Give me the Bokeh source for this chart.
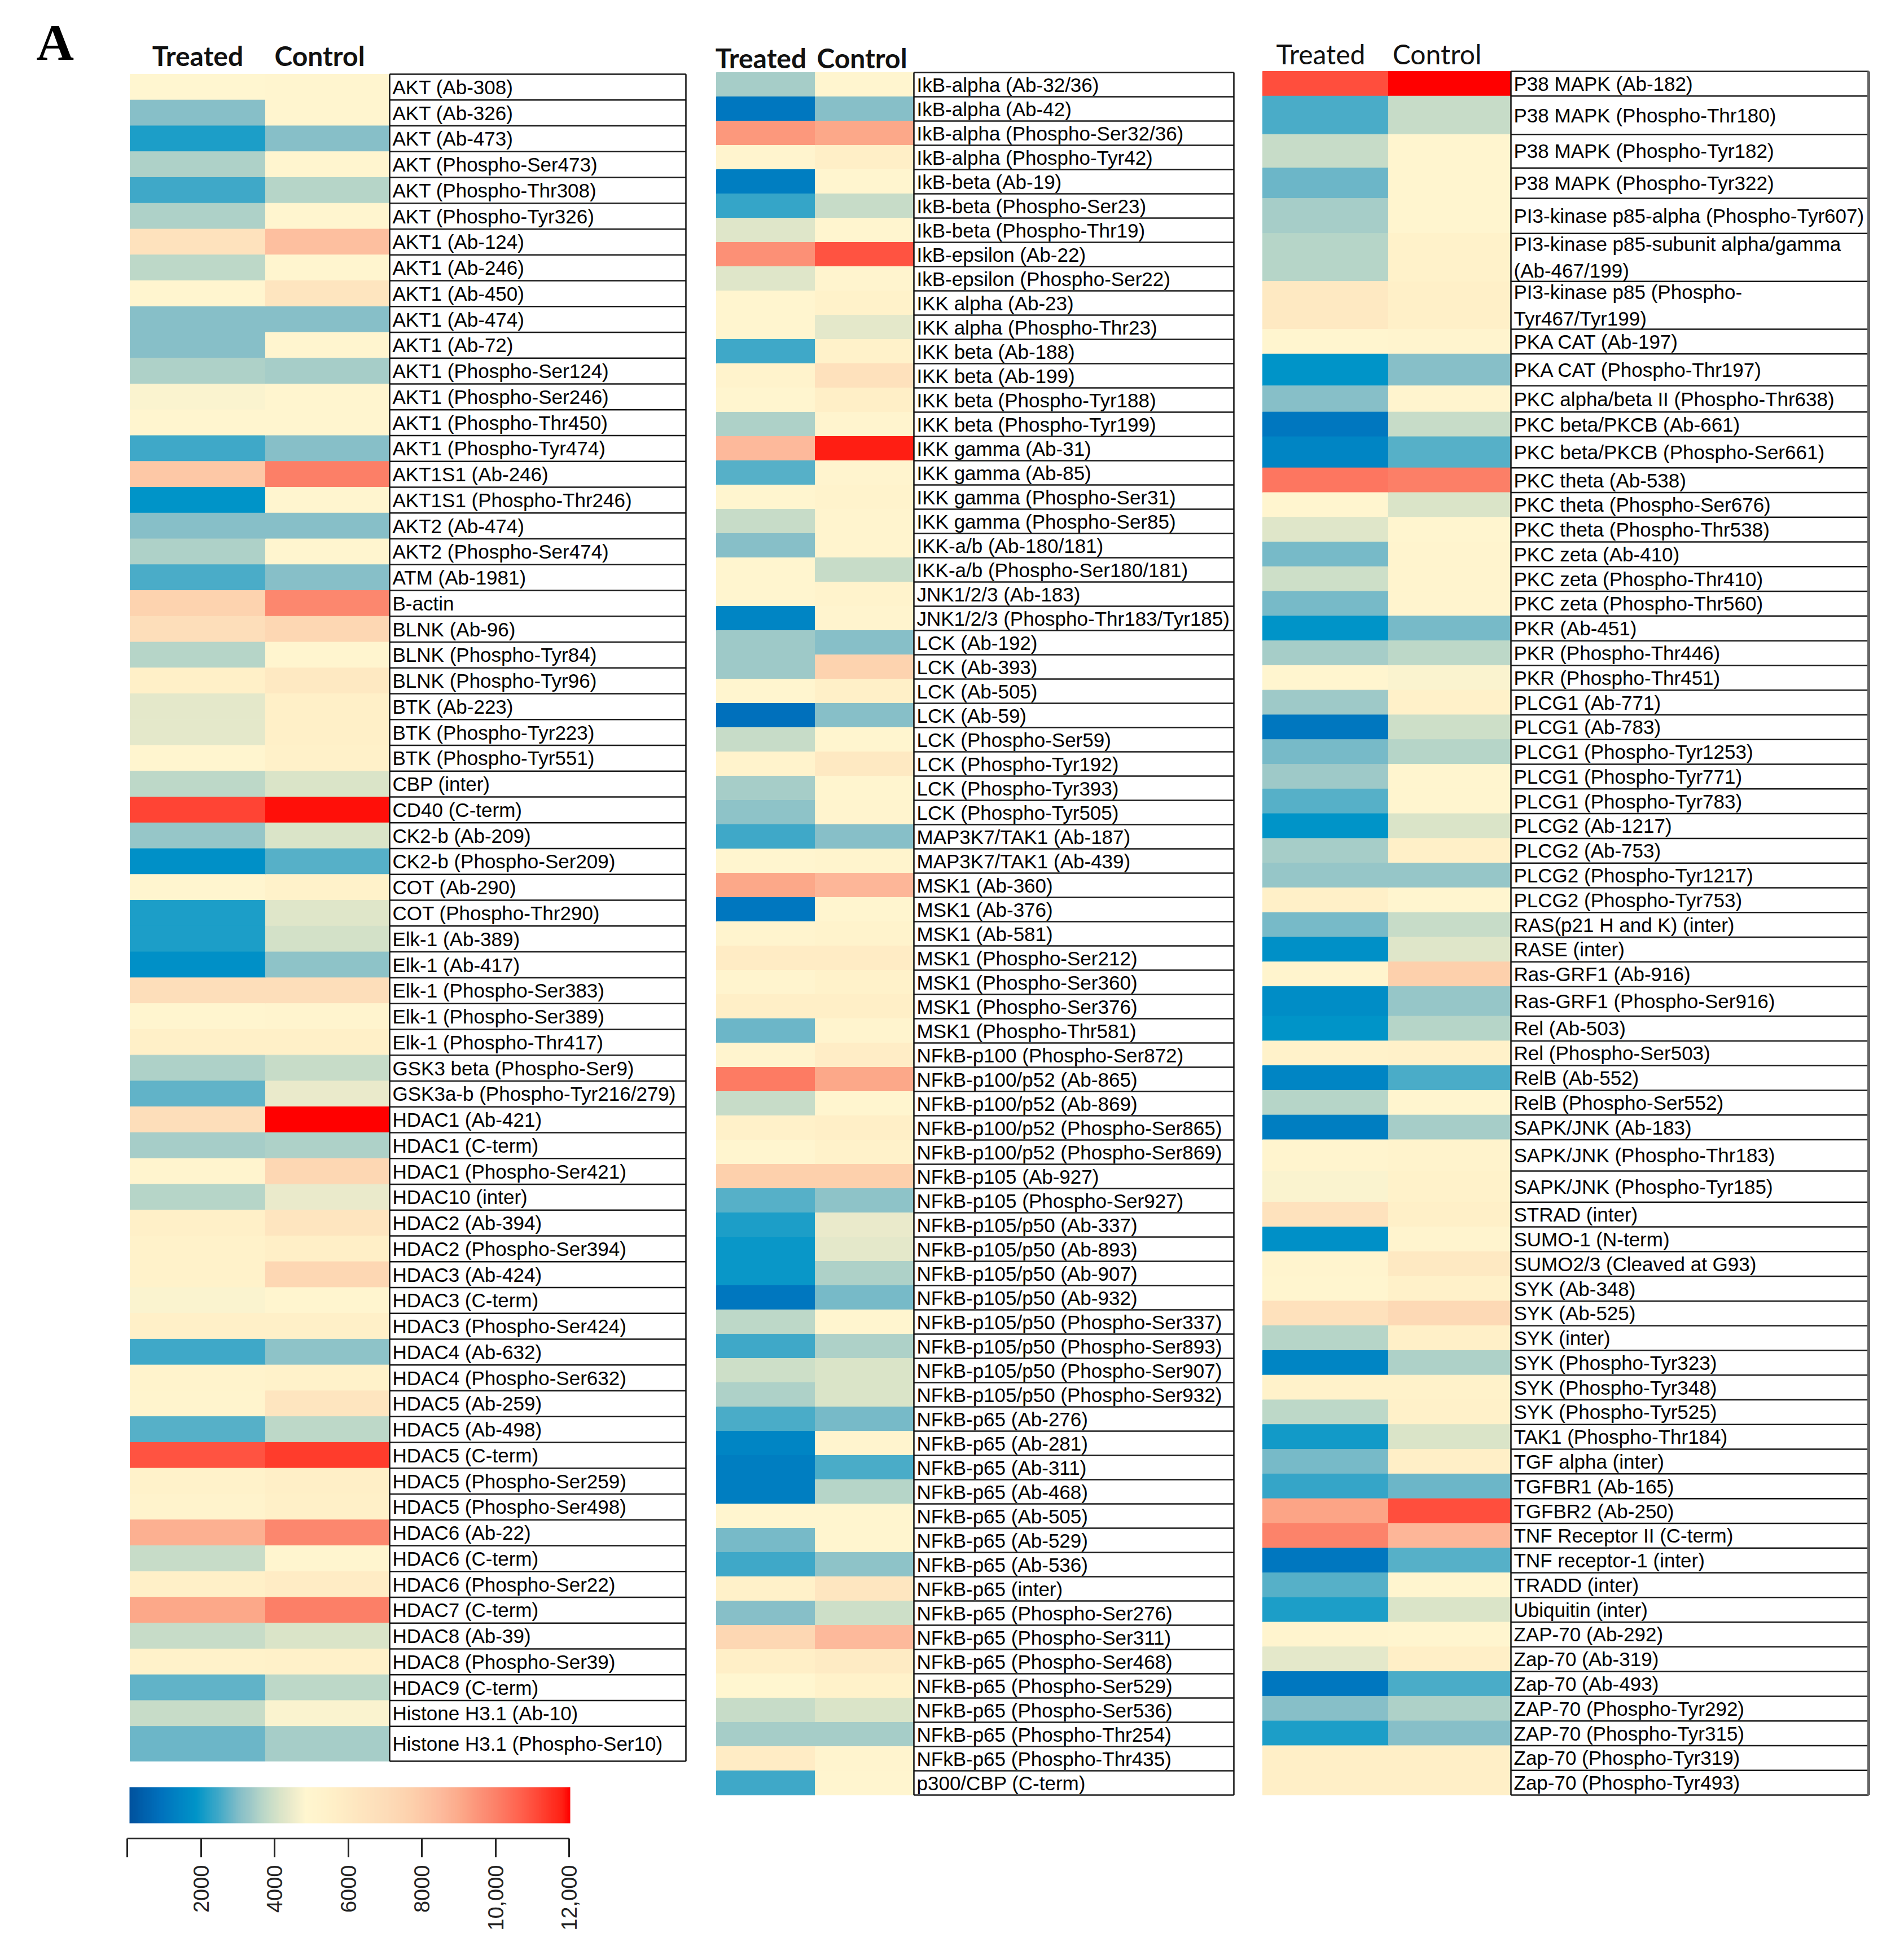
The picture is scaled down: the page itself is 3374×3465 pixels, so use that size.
import numpy as np
from bokeh.plotting import figure
from bokeh.models import ColumnDataSource, LinearColorMapper, Range1d, LinearAxis, FixedTicker, ColorBar
from bokeh.transform import transform
from bokeh.core.properties import value
from bokeh.embed import file_html
from bokeh.resources import INLINE

# ---------------- data ----------------
conditions = ["Treated", "Control"]

p1_labels = ["AKT (Ab-308)", "AKT (Ab-326)", "AKT (Ab-473)", "AKT (Phospho-Ser473)", "AKT (Phospho-Thr308)",
             "AKT (Phospho-Tyr326)", "AKT1 (Ab-124)", "AKT1 (Ab-246)", "AKT1 (Ab-450)", "AKT1 (Ab-474)",
             "AKT1 (Ab-72)", "AKT1 (Phospho-Ser124)", "AKT1 (Phospho-Ser246)", "AKT1 (Phospho-Thr450)",
             "AKT1 (Phospho-Tyr474)", "AKT1S1 (Ab-246)", "AKT1S1 (Phospho-Thr246)", "AKT2 (Ab-474)",
             "AKT2 (Phospho-Ser474)", "ATM (Ab-1981)", "B-actin", "BLNK (Ab-96)", "BLNK (Phospho-Tyr84)",
             "BLNK (Phospho-Tyr96)", "BTK (Ab-223)", "BTK (Phospho-Tyr223)", "BTK (Phospho-Tyr551)",
             "CBP (inter)", "CD40 (C-term)", "CK2-b (Ab-209)", "CK2-b (Phospho-Ser209)", "COT (Ab-290)",
             "COT (Phospho-Thr290)", "Elk-1 (Ab-389)", "Elk-1 (Ab-417)", "Elk-1 (Phospho-Ser383)",
             "Elk-1 (Phospho-Ser389)", "Elk-1 (Phospho-Thr417)", "GSK3 beta (Phospho-Ser9)",
             "GSK3a-b (Phospho-Tyr216/279)", "HDAC1 (Ab-421)", "HDAC1 (C-term)", "HDAC1 (Phospho-Ser421)",
             "HDAC10 (inter)", "HDAC2 (Ab-394)", "HDAC2 (Phospho-Ser394)", "HDAC3 (Ab-424)", "HDAC3 (C-term)",
             "HDAC3 (Phospho-Ser424)", "HDAC4 (Ab-632)", "HDAC4 (Phospho-Ser632)", "HDAC5 (Ab-259)",
             "HDAC5 (Ab-498)", "HDAC5 (C-term)", "HDAC5 (Phospho-Ser259)", "HDAC5 (Phospho-Ser498)",
             "HDAC6 (Ab-22)", "HDAC6 (C-term)", "HDAC6 (Phospho-Ser22)", "HDAC7 (C-term)", "HDAC8 (Ab-39)",
             "HDAC8 (Phospho-Ser39)", "HDAC9 (C-term)", "Histone H3.1 (Ab-10)", "Histone H3.1 (Phospho-Ser10)"]
p1_treated = [4800, 3000, 2100, 3500, 2400, 3500, 6500, 3700, 4900, 3000, 3000, 3500, 4700, 4900, 2400,
              8000, 1800, 3000, 3500, 2500, 7500, 6800, 3600, 5500, 4300, 4300, 4900, 3700, 11200, 3200,
              1700, 4900, 2100, 2100, 1700, 6800, 4900, 5500, 3500, 2700, 6800, 3400, 5000, 3600, 5500,
              5300, 5300, 4700, 5500, 2400, 5200, 5100, 2600, 10900, 5300, 5200, 8800, 3800, 5500, 9000,
              3800, 5300, 2700, 3800, 2800]
p1_control = [4900, 4900, 3000, 4900, 3600, 4900, 8300, 4900, 6300, 3000, 4900, 3400, 4900, 4900, 3000,
              10000, 4900, 3000, 4900, 3000, 9800, 7300, 4900, 6000, 5500, 5500, 5400, 4100, 11900, 4100,
              2600, 5300, 4200, 4000, 3100, 6800, 5000, 5500, 3800, 4400, 12000, 3500, 7300, 4400, 6300,
              5600, 7300, 4900, 5500, 3100, 5300, 6300, 3700, 11300, 5600, 5500, 9800, 4900, 5800, 10000,
              4100, 5400, 3700, 4700, 3400]

p2_labels = ["IkB-alpha (Ab-32/36)", "IkB-alpha (Ab-42)", "IkB-alpha (Phospho-Ser32/36)",
             "IkB-alpha (Phospho-Tyr42)", "IkB-beta (Ab-19)", "IkB-beta (Phospho-Ser23)",
             "IkB-beta (Phospho-Thr19)", "IkB-epsilon (Ab-22)", "IkB-epsilon (Phospho-Ser22)",
             "IKK alpha (Ab-23)", "IKK alpha (Phospho-Thr23)", "IKK beta (Ab-188)", "IKK beta (Ab-199)",
             "IKK beta (Phospho-Tyr188)", "IKK beta (Phospho-Tyr199)", "IKK gamma (Ab-31)", "IKK gamma (Ab-85)",
             "IKK gamma (Phospho-Ser31)", "IKK gamma (Phospho-Ser85)", "IKK-a/b (Ab-180/181)",
             "IKK-a/b (Phospho-Ser180/181)", "JNK1/2/3 (Ab-183)", "JNK1/2/3 (Phospho-Thr183/Tyr185)",
             "LCK (Ab-192)", "LCK (Ab-393)", "LCK (Ab-505)", "LCK (Ab-59)", "LCK (Phospho-Ser59)",
             "LCK (Phospho-Tyr192)", "LCK (Phospho-Tyr393)", "LCK (Phospho-Tyr505)", "MAP3K7/TAK1 (Ab-187)",
             "MAP3K7/TAK1 (Ab-439)", "MSK1 (Ab-360)", "MSK1 (Ab-376)", "MSK1 (Ab-581)", "MSK1 (Phospho-Ser212)",
             "MSK1 (Phospho-Ser360)", "MSK1 (Phospho-Ser376)", "MSK1 (Phospho-Thr581)",
             "NFkB-p100 (Phospho-Ser872)", "NFkB-p100/p52 (Ab-865)", "NFkB-p100/p52 (Ab-869)",
             "NFkB-p100/p52 (Phospho-Ser865)", "NFkB-p100/p52 (Phospho-Ser869)", "NFkB-p105 (Ab-927)",
             "NFkB-p105 (Phospho-Ser927)", "NFkB-p105/p50 (Ab-337)", "NFkB-p105/p50 (Ab-893)",
             "NFkB-p105/p50 (Ab-907)", "NFkB-p105/p50 (Ab-932)", "NFkB-p105/p50 (Phospho-Ser337)",
             "NFkB-p105/p50 (Phospho-Ser893)", "NFkB-p105/p50 (Phospho-Ser907)",
             "NFkB-p105/p50 (Phospho-Ser932)", "NFkB-p65 (Ab-276)", "NFkB-p65 (Ab-281)", "NFkB-p65 (Ab-311)",
             "NFkB-p65 (Ab-468)", "NFkB-p65 (Ab-505)", "NFkB-p65 (Ab-529)", "NFkB-p65 (Ab-536)",
             "NFkB-p65 (inter)", "NFkB-p65 (Phospho-Ser276)", "NFkB-p65 (Phospho-Ser311)",
             "NFkB-p65 (Phospho-Ser468)", "NFkB-p65 (Phospho-Ser529)", "NFkB-p65 (Phospho-Ser536)",
             "NFkB-p65 (Phospho-Thr254)", "NFkB-p65 (Phospho-Thr435)", "p300/CBP (C-term)"]
p2_treated = [3400, 1000, 9400, 5000, 1200, 2300, 4200, 9600, 4200, 4900, 4900, 2400, 5200, 4900, 3500,
              8500, 2600, 4900, 3800, 3000, 4900, 4900, 1400, 3300, 3300, 4900, 800, 3800, 5200, 3400,
              3100, 2400, 4900, 9000, 1000, 5000, 5800, 5000, 5600, 2800, 5000, 10100, 3800, 5400, 4900,
              7700, 2600, 2100, 1900, 1900, 1000, 3700, 2400, 3900, 3500, 2500, 1400, 1200, 1200, 4900,
              2900, 2400, 5400, 3000, 7300, 5600, 4800, 3800, 3400, 5800, 2400]
p2_control = [4900, 3000, 9000, 5600, 4900, 3800, 4900, 10900, 5000, 5300, 4300, 5300, 6600, 5600, 5000,
              11800, 5000, 5200, 5000, 5000, 3800, 5200, 5000, 3000, 7500, 5500, 3000, 4900, 6000, 4900,
              5000, 3000, 5100, 8600, 4900, 5200, 5800, 5300, 5600, 5000, 5700, 9000, 4900, 5600, 5300,
              7700, 3100, 4400, 4300, 3500, 2900, 4900, 3500, 4100, 4100, 2900, 5000, 2500, 3600, 4900,
              4900, 3100, 6200, 3900, 8500, 5900, 5300, 4100, 3400, 5000, 4900]

p3_labels = ["P38 MAPK (Ab-182)", "P38 MAPK (Phospho-Thr180)", "P38 MAPK (Phospho-Tyr182)",
             "P38 MAPK (Phospho-Tyr322)", "PI3-kinase p85-alpha (Phospho-Tyr607)",
             "PI3-kinase p85-subunit alpha/gamma\n(Ab-467/199)", "PI3-kinase p85 (Phospho-\nTyr467/Tyr199)",
             "PKA CAT (Ab-197)", "PKA CAT (Phospho-Thr197)", "PKC alpha/beta II (Phospho-Thr638)",
             "PKC beta/PKCB (Ab-661)", "PKC beta/PKCB (Phospho-Ser661)", "PKC theta (Ab-538)",
             "PKC theta (Phospho-Ser676)", "PKC theta (Phospho-Thr538)", "PKC zeta (Ab-410)",
             "PKC zeta (Phospho-Thr410)", "PKC zeta (Phospho-Thr560)", "PKR (Ab-451)", "PKR (Phospho-Thr446)",
             "PKR (Phospho-Thr451)", "PLCG1 (Ab-771)", "PLCG1 (Ab-783)", "PLCG1 (Phospho-Tyr1253)",
             "PLCG1 (Phospho-Tyr771)", "PLCG1 (Phospho-Tyr783)", "PLCG2 (Ab-1217)", "PLCG2 (Ab-753)",
             "PLCG2 (Phospho-Tyr1217)", "PLCG2 (Phospho-Tyr753)", "RAS(p21 H and K) (inter)", "RASE (inter)",
             "Ras-GRF1 (Ab-916)", "Ras-GRF1 (Phospho-Ser916)", "Rel (Ab-503)", "Rel (Phospho-Ser503)",
             "RelB (Ab-552)", "RelB (Phospho-Ser552)", "SAPK/JNK (Ab-183)", "SAPK/JNK (Phospho-Thr183)",
             "SAPK/JNK (Phospho-Tyr185)", "STRAD (inter)", "SUMO-1 (N-term)", "SUMO2/3 (Cleaved at G93)",
             "SYK (Ab-348)", "SYK (Ab-525)", "SYK (inter)", "SYK (Phospho-Tyr323)", "SYK (Phospho-Tyr348)",
             "SYK (Phospho-Tyr525)", "TAK1 (Phospho-Thr184)", "TGF alpha (inter)", "TGFBR1 (Ab-165)",
             "TGFBR2 (Ab-250)", "TNF Receptor II (C-term)", "TNF receptor-1 (inter)", "TRADD (inter)",
             "Ubiquitin (inter)", "ZAP-70 (Ab-292)", "Zap-70 (Ab-319)", "Zap-70 (Ab-493)",
             "ZAP-70 (Phospho-Tyr292)", "ZAP-70 (Phospho-Tyr315)", "Zap-70 (Phospho-Tyr319)",
             "Zap-70 (Phospho-Tyr493)"]
p3_treated = [11000, 2500, 3800, 2800, 3400, 3600, 6000, 4900, 1800, 3000, 1000, 1400, 10200, 4900, 4200,
              2900, 3900, 2900, 1800, 3400, 4900, 3300, 1000, 2900, 3300, 2600, 1800, 3400, 3200, 5500,
              2900, 1700, 5100, 1600, 1800, 5300, 1400, 3600, 1200, 5000, 4700, 6500, 1700, 5000, 4900,
              6600, 3600, 1400, 5300, 3700, 2000, 2900, 2300, 9100, 9900, 1000, 2600, 2100, 5000, 4300,
              1000, 3000, 2100, 5600, 5600]
p3_control = [12000, 3800, 4900, 4900, 4900, 5300, 5500, 5000, 3000, 5000, 3800, 2600, 10000, 4100, 4900,
              5000, 5000, 5000, 2900, 3700, 4700, 5400, 3900, 3600, 4900, 4900, 4100, 5500, 3200, 4900,
              3800, 4200, 7700, 3200, 3600, 5400, 2500, 4900, 3400, 5200, 5300, 5500, 5000, 6000, 5400,
              7200, 5500, 3500, 5300, 5400, 4100, 5600, 2800, 11000, 8600, 2600, 4900, 4100, 4900, 5600,
              2500, 3500, 3000, 5600, 5600]

scale_ticks = [2000, 4000, 6000, 8000, 10000, 12000]
scale_tick_labels = ["2000", "4000", "6000", "8000", "10,000", "12,000"]
scale_start = 0

# ---------------- style / layout ----------------
stops = [(0, "#00529e"), (800, "#0070bc"), (1400, "#0086c4"), (1800, "#0094c8"), (2100, "#1f9fc8"),
         (2400, "#3fa8c8"), (2600, "#57b0c8"), (2800, "#6fb7c8"), (3000, "#86bfc8"), (3300, "#9ec9c8"),
         (3500, "#b0d2c8"), (3800, "#c6dcc8"), (4100, "#dae4c8"), (4400, "#ebebcb"), (4800, "#fff6d0"),
         (5500, "#fff0c8"), (6200, "#fee6c0"), (7000, "#fddcb8"), (7700, "#fdd0ac"), (8500, "#fdba9c"),
         (9000, "#fcaa8a"), (9600, "#fc9076"), (10000, "#fc8068"), (10600, "#ff6450"), (11200, "#ff4434"),
         (11800, "#ff2014"), (12000, "#ff0000")]


def _hex(c):
    return np.array([int(c[i:i + 2], 16) for i in (1, 3, 5)], dtype=float)


sv = np.array([s[0] for s in stops], dtype=float)
sc = np.array([_hex(s[1]) for s in stops])
palette = []
for t in np.linspace(0, 12000, 256):
    rgb = [np.interp(t, sv, sc[:, k]) for k in range(3)]
    palette.append("#%02x%02x%02x" % tuple(int(round(v)) for v in rgb))
mapper = LinearColorMapper(palette=palette, low=0, high=12000)

W, H = 3358, 3449
BOTTOM = 191
FRAME_BOTTOM = H - BOTTOM  # screenshot-pixel y of frame bottom

p = figure(width=W, height=H, output_backend="svg", toolbar_location=None,
           x_range=Range1d(0, W), y_range=Range1d(FRAME_BOTTOM, 0),
           x_axis_type=None, y_axis_type=None,
           min_border_left=0, min_border_right=0, min_border_top=0, min_border_bottom=BOTTOM)
p.outline_line_color = None
p.background_fill_color = "white"
p.border_fill_color = "white"

LABEL_FONT = value("Liberation Sans")

panels = [
    dict(labels=p1_labels, t=p1_treated, c=p1_control, x0=230, x1=470, x2=690, x3=1215, top=131, bottom=3121,
         heights={"Histone H3.1 (Phospho-Ser10)": 1.35}, head_x=[350, 566], head_y=98, head_style="bold",
         right_color="#111111", right_width=2.5),
    dict(labels=p2_labels, t=p2_treated, c=p2_control, x0=1269, x1=1444, x2=1619, x3=2186, top=128, bottom=3181,
         heights={}, head_x=[1348, 1527], head_y=102, head_style="bold", right_color="#111111", right_width=2.5),
    dict(labels=p3_labels, t=p3_treated, c=p3_control, x0=2237, x1=2460, x2=2677, x3=3311, top=126, bottom=3181,
         heights={"P38 MAPK (Phospho-Thr180)": 1.55, "P38 MAPK (Phospho-Tyr182)": 1.36,
                  "P38 MAPK (Phospho-Tyr322)": 1.23, "PI3-kinase p85-alpha (Phospho-Tyr607)": 1.42,
                  "PI3-kinase p85-subunit alpha/gamma\n(Ab-467/199)": 1.94,
                  "PI3-kinase p85 (Phospho-\nTyr467/Tyr199)": 1.94, "PKA CAT (Phospho-Thr197)": 1.29,
                  "PKC alpha/beta II (Phospho-Thr638)": 1.06, "PKC beta/PKCB (Phospho-Ser661)": 1.26,
                  "Ras-GRF1 (Phospho-Ser916)": 1.2, "SAPK/JNK (Phospho-Thr183)": 1.27,
                  "SAPK/JNK (Phospho-Tyr185)": 1.26},
         head_x=[2340, 2546], head_y=95, head_style="normal", right_color="#666666", right_width=5),
]

for P in panels:
    labels = P["labels"]
    n = len(labels)
    hs = np.array([P["heights"].get(l, 1.0) for l in labels])
    unit = (P["bottom"] - P["top"]) / hs.sum()
    edges = P["top"] + np.concatenate([[0.0], np.cumsum(hs)]) * unit
    tops, bots = edges[:-1], edges[1:]
    centers = (tops + bots) / 2

    src = ColumnDataSource(dict(
        left=[P["x0"]] * n + [P["x1"]] * n,
        right=[P["x1"]] * n + [P["x2"]] * n,
        top=list(tops) * 2, bottom=list(bots) * 2,
        v=list(P["t"]) + list(P["c"]),
        cond=[conditions[0]] * n + [conditions[1]] * n,
        name=list(labels) * 2))
    p.quad(left="left", right="right", top="top", bottom="bottom", source=src,
           fill_color=transform("v", mapper), line_color=transform("v", mapper), line_width=1)

    # label table
    p.segment(x0=[P["x2"]] * (n + 1), x1=[P["x3"]] * (n + 1), y0=list(edges), y1=list(edges),
              line_color="#1c1c1c", line_width=2.5)
    p.segment(x0=[P["x2"]], x1=[P["x2"]], y0=[edges[0]], y1=[edges[-1]], line_color="#111111", line_width=2.5)
    p.segment(x0=[P["x3"]], x1=[P["x3"]], y0=[edges[0]], y1=[edges[-1]],
              line_color=P["right_color"], line_width=P["right_width"])
    p.text(x=[P["x2"] + 5] * n, y=list(centers), text=labels, text_font=LABEL_FONT,
           text_font_size="35px", text_baseline="middle", text_align="left", text_color="black",
           text_line_height=1.2)

    # headers
    p.text(x=P["head_x"], y=[P["head_y"]] * 2, text=conditions,
           text_font=value("Lato"), text_font_style=P["head_style"], text_font_size="48px",
           text_align="center", text_baseline="middle", text_color="#111111")

# panel letter
p.text(x=[64], y=[74], text=["A"], text_font=value("Liberation Serif"), text_font_style="bold",
       text_font_size="92px", text_baseline="middle", text_align="left", text_color="black")

# colour scale: bar + axis below
CB_X0, CB_X12 = 225.0, 1008.0  # screenshot x of 0 and 12000
k = 12000.0 / (CB_X12 - CB_X0)
p.extra_x_ranges = {"cb": Range1d((0 - CB_X0) * k, (W - CB_X0) * k)}

cbar = ColorBar(color_mapper=mapper, orientation="horizontal", location=(229, FRAME_BOTTOM - 3231),
                width=781, height=64, padding=0, margin=0, title=None,
                ticker=FixedTicker(ticks=[]), major_tick_line_color=None, minor_tick_line_color=None,
                bar_line_color=None, border_line_color=None, background_fill_alpha=0)
p.add_layout(cbar, "center")

ax = LinearAxis(x_range_name="cb",
                ticker=FixedTicker(ticks=scale_ticks, minor_ticks=[scale_start]),
                bounds=(scale_start, 12000),
                major_label_overrides={t: s for t, s in zip(scale_ticks, scale_tick_labels)},
                major_label_orientation=np.pi / 2)
ax.axis_line_width = 3
ax.axis_line_color = "#222222"
ax.major_tick_line_width = 3
ax.major_tick_line_color = "#222222"
ax.major_tick_in = 0
ax.major_tick_out = 33
ax.minor_tick_line_width = 3
ax.minor_tick_line_color = "#222222"
ax.minor_tick_in = 0
ax.minor_tick_out = 33
ax.major_label_standoff = 14
ax.major_label_text_font = "Liberation Sans"
ax.major_label_text_font_size = "38px"
ax.major_label_text_color = "#222222"
p.add_layout(ax, "below")

open("out.html", "w").write(file_html(p, INLINE))
